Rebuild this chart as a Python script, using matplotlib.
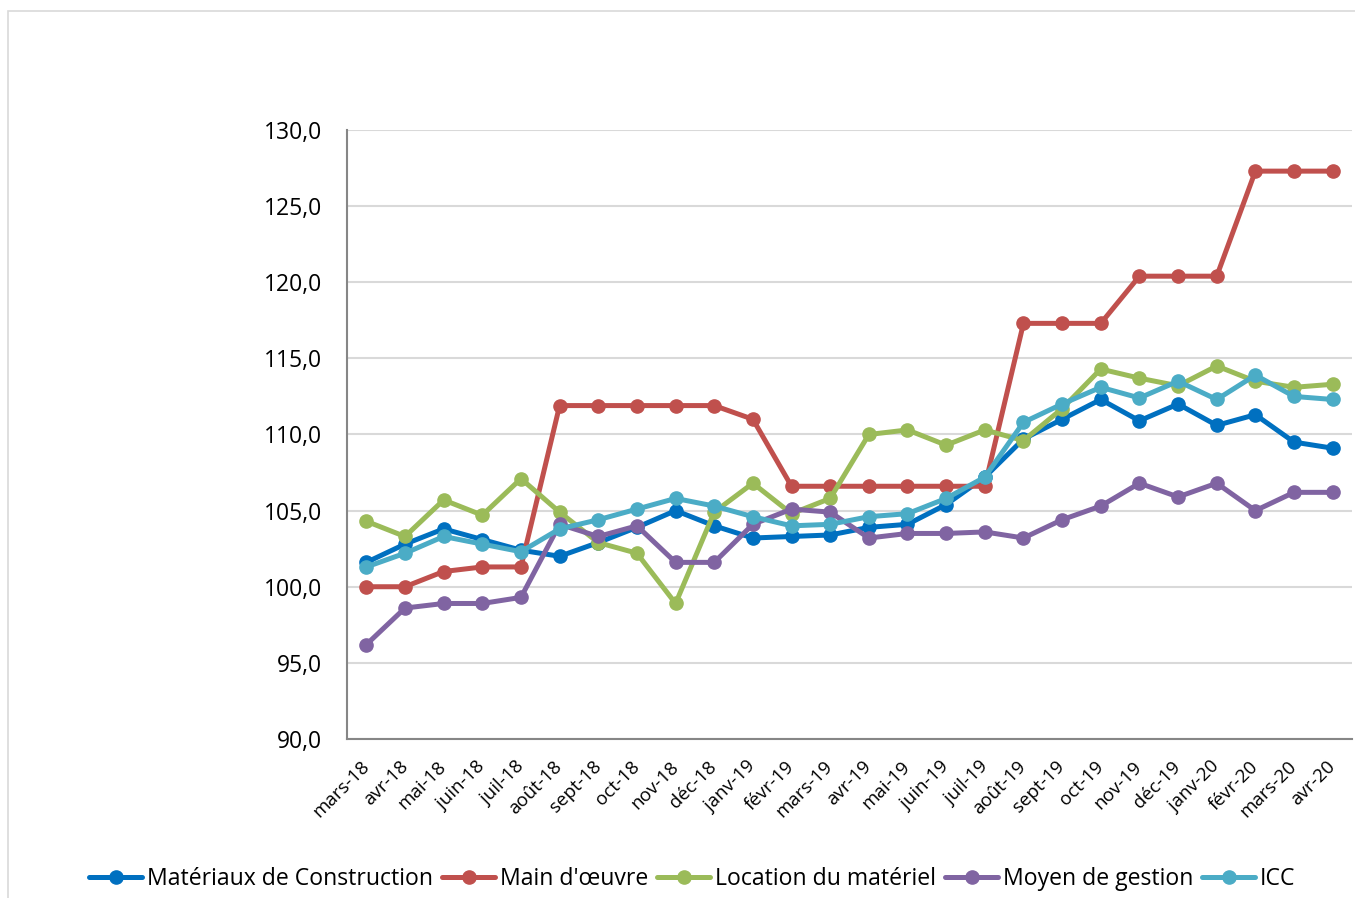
import numpy as np
import matplotlib
matplotlib.use("Agg")
import matplotlib.pyplot as plt
from matplotlib.patches import Rectangle
from matplotlib.ticker import FuncFormatter

# ------------------------------------------------------------
# Data
months = ["mars-18", "avr-18", "mai-18", "juin-18", "juil-18", "août-18", "sept-18",
          "oct-18", "nov-18", "déc-18", "janv-19", "févr-19", "mars-19", "avr-19",
          "mai-19", "juin-19", "juil-19", "août-19", "sept-19", "oct-19", "nov-19",
          "déc-19", "janv-20", "févr-20", "mars-20", "avr-20"]

materiaux = [101.6, 102.8, 103.8, 103.1, 102.4, 102.0, 102.9, 103.9, 105.0, 104.0,
             103.2, 103.3, 103.4, 103.9, 104.1, 105.4, 107.2, 109.7, 111.0, 112.3,
             110.9, 112.0, 110.6, 111.3, 109.5, 109.1]
main_oeuvre = [100.0, 100.0, 101.0, 101.3, 101.3, 111.9, 111.9, 111.9, 111.9, 111.9,
               111.0, 106.6, 106.6, 106.6, 106.6, 106.6, 106.6, 117.3, 117.3, 117.3,
               120.4, 120.4, 120.4, 127.3, 127.3, 127.3]
location = [104.3, 103.3, 105.7, 104.7, 107.1, 104.9, 102.9, 102.2, 98.9, 104.9,
            106.8, 104.8, 105.8, 110.0, 110.3, 109.3, 110.3, 109.6, 111.7, 114.3,
            113.7, 113.2, 114.5, 113.5, 113.1, 113.3]
moyen_gestion = [96.2, 98.6, 98.9, 98.9, 99.3, 104.1, 103.3, 104.0, 101.6, 101.6,
                 104.1, 105.1, 104.9, 103.2, 103.5, 103.5, 103.6, 103.2, 104.4, 105.3,
                 106.8, 105.9, 106.8, 105.0, 106.2, 106.2]
icc = [101.3, 102.2, 103.3, 102.8, 102.3, 103.8, 104.4, 105.1, 105.8, 105.3,
       104.6, 104.0, 104.1, 104.6, 104.8, 105.8, 107.2, 110.8, 112.0, 113.1,
       112.4, 113.5, 112.3, 113.9, 112.5, 112.3]

series = [
    ("Matériaux de Construction", materiaux, "#0070C0"),
    ("Main d'œuvre", main_oeuvre, "#C0504D"),
    ("Location du matériel", location, "#9BBB59"),
    ("Moyen de gestion", moyen_gestion, "#8064A2"),
    ("ICC", icc, "#4BACC6"),
]

# ------------------------------------------------------------
plt.rcParams["font.family"] = ["Open Sans", "DejaVu Sans"]

fig = plt.figure(figsize=(13.55, 8.98), dpi=100)
ax = fig.add_axes([0.2561, 0.1771, 0.7417, 0.6781])

# light border around the chart area
fig.patches.append(Rectangle((8 / 1355, -0.1), 1.2, 1.1 - 11 / 898, transform=fig.transFigure,
                             fill=False, edgecolor="#D9D9D9", linewidth=1.2))

x = np.arange(len(months))
for label, values, color in series:
    ax.plot(x, values, color=color, linewidth=3.6, marker="o", markersize=9.5,
            label=label, solid_capstyle="round")

ax.set_xlim(-0.5, len(months) - 0.5)
ax.set_ylim(90, 130)
ax.set_yticks(np.arange(90, 131, 5))
ax.yaxis.set_major_formatter(FuncFormatter(lambda v, p: f"{v:.1f}".replace(".", ",")))
ax.set_xticks(x)
ax.set_xticklabels(months, rotation=45, ha="right", va="center", rotation_mode="anchor")

ax.grid(axis="y", color="#D9D9D9", linewidth=1.5)
ax.set_axisbelow(True)
for side in ["top", "right"]:
    ax.spines[side].set_visible(False)
for side in ["left", "bottom"]:
    ax.spines[side].set_color("#868686")
    ax.spines[side].set_linewidth(1.5)
ax.tick_params(axis="y", length=0, pad=18, labelsize=16.5)
ax.tick_params(axis="x", length=0, pad=18, labelsize=13.5)

fig.legend(loc="center", bbox_to_anchor=(0.511, 0.021), ncol=5, frameon=False,
           fontsize=16.6, handlelength=2.3, handletextpad=0.2, columnspacing=0.4)

fig.savefig("out.png", dpi=100)
